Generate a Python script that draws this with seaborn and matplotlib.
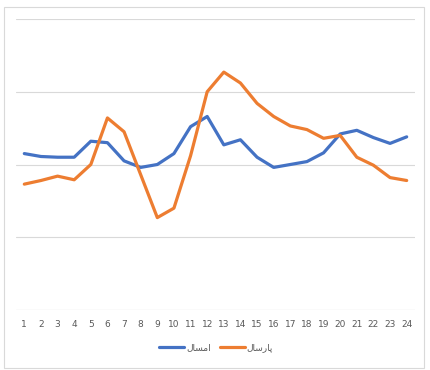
import numpy as np
import pandas as pd
import matplotlib
matplotlib.use('Agg')
import matplotlib.pyplot as plt
import seaborn as sns
from matplotlib.patches import Rectangle

# hours / categories on x axis
hours = list(range(1, 25))

# values (units = gridline steps)
this_year = [2.15, 2.11, 2.10, 2.10, 2.32, 2.30, 2.05, 1.96, 2.00, 2.15, 2.52, 2.66,
             2.27, 2.34, 2.10, 1.96, 2.00, 2.04, 2.16, 2.42, 2.47, 2.37, 2.29, 2.38]
last_year = [1.73, 1.78, 1.84, 1.79, 2.00, 2.64, 2.45, 1.86, 1.27, 1.40, 2.12, 3.00,
             3.27, 3.12, 2.84, 2.66, 2.53, 2.48, 2.36, 2.40, 2.10, 1.99, 1.82, 1.78]

# Persian labels (pre-shaped presentation forms in visual order, since matplotlib has no Arabic shaping)
label_this = '\uFEDD\uFE8E\uFEB4\uFEE3\uFE8D'        # امسال
label_last = '\uFEDD\uFE8E\uFEB3\uFEAD\uFE8E\uFB58'  # پارسال

df = pd.DataFrame({
    'hour': hours * 2,
    'value': this_year + last_year,
    'series': [label_this] * 24 + [label_last] * 24,
})

sns.set_style('white')
plt.rcParams['font.family'] = ['DejaVu Sans']

fig = plt.figure(figsize=(4.3, 3.7), dpi=100)
W, H = 430, 370
ax = fig.add_axes([16 / W, 1 - 310 / H, (415 - 16) / W, (310 - 19) / H])

# chart frame
fig.patches.append(Rectangle((4 / W, 1 - 368 / H), 420 / W, 361 / H, transform=fig.transFigure,
                             fill=False, edgecolor='#d9d9d9', linewidth=0.8))

sns.lineplot(data=df, x='hour', y='value', hue='series', ax=ax,
             palette=['#4472C4', '#ED7D31'], linewidth=2.3, legend=False)

ax.set_xlim(0.5, 24.5)
ax.set_ylim(0, 4)
ax.set_yticks([0, 1, 2, 3, 4])
ax.set_yticklabels([])
ax.yaxis.grid(True, color='#d9d9d9', linewidth=0.8)
ax.xaxis.grid(False)
ax.set_axisbelow(True)
ax.set_xticks(hours)
ax.set_xticklabels([str(h) for h in hours], fontsize=6.5, color='#595959')
ax.tick_params(axis='x', length=0, pad=7)
ax.tick_params(axis='y', length=0)
ax.set_xlabel('')
ax.set_ylabel('')
for s in ax.spines.values():
    s.set_visible(False)
ax.axhline(0, color='#d9d9d9', linewidth=0.8)

from matplotlib.lines import Line2D
handles = [Line2D([], [], color='#4472C4', lw=2.3), Line2D([], [], color='#ED7D31', lw=2.3)]
fig.legend(handles, [label_this, label_last], loc='center', bbox_to_anchor=(216 / W, 1 - 348 / H),
           ncol=2, frameon=False, fontsize=6.5, handlelength=2.8, handletextpad=0.2,
           columnspacing=1.0, labelcolor='#595959')

fig.savefig('out.png', dpi=100, facecolor='white')
